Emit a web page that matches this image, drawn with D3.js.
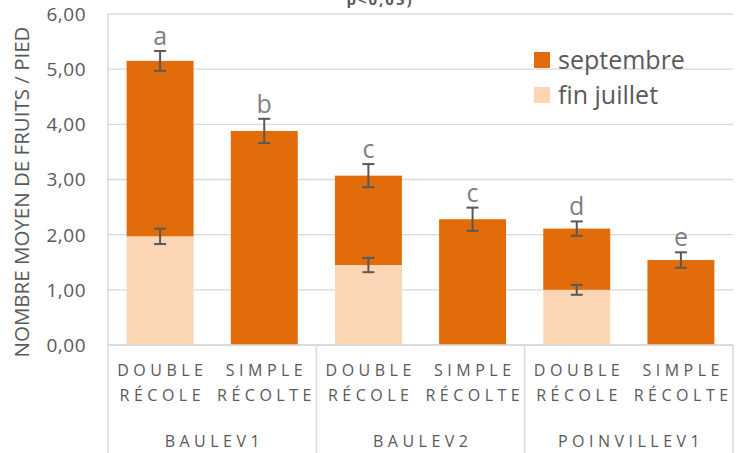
<!DOCTYPE html>
<html lang="fr">
<head>
<meta charset="UTF-8">
<title>Nombre moyen de fruits par pied</title>
<script src="https://cdn.jsdelivr.net/npm/d3@7"></script>
<style>
  body { margin: 0; background: #fff; }
  text { font-family: "Open Sans", Lato, sans-serif; }
</style>
</head>
<body>
<div id="chart"></div>
<script>
// data
var groups = ["BAULEV1", "BAULEV2", "POINVILLEV1"]
var treatments = [["DOUBLE", "RÉCOLE"], ["SIMPLE", "RÉCOLTE"]]
var juillet = [1.97, 0, 1.45, 0, 1.00, 0]
var septembre = [3.18, 3.88, 1.62, 2.28, 1.11, 1.54]
var errJuillet = [0.14, null, 0.13, null, 0.09, null]
var errTotal = [0.18, 0.22, 0.21, 0.21, 0.13, 0.14]
var letters = ["a", "b", "c", "c", "d", "e"]
var yTicks = [0, 1, 2, 3, 4, 5, 6]
var series = ["septembre", "fin juillet"]
var colors = { "septembre": "#E36C0A", "fin juillet": "#FCD5B5" }

var width = 737, height = 453
var margin = { top: 14, right: 4, bottom: 108, left: 108 }

var svg = d3.select("#chart").append("svg")
    .attr("width", width)
    .attr("height", height)

var bars = []
groups.forEach(function (g, gi) {
    treatments.forEach(function (t, ti) {
        var i = gi * 2 + ti
        bars.push({ i: i, group: g, lines: t, juillet: juillet[i], sept: septembre[i],
            total: juillet[i] + septembre[i], errJ: errJuillet[i], errT: errTotal[i], letter: letters[i] })
    })
})

var x = d3.scaleBand()
    .domain(bars.map(function (d) { return d.i }))
    .range([margin.left, width - margin.right])
    .paddingInner(0.357)
    .paddingOuter(0.1785)

var y = d3.scaleLinear()
    .domain([0, 6])
    .range([height - margin.bottom, margin.top])

var fmt = function (v) { return d3.format(".2f")(v).replace(".", ",") }

// gridlines
svg.append("g")
    .selectAll("line")
    .data(yTicks)
    .enter().append("line")
    .attr("x1", margin.left).attr("x2", width - margin.right)
    .attr("y1", function (d) { return y(d) }).attr("y2", function (d) { return y(d) })
    .attr("stroke", "#D9D9D9").attr("stroke-width", 1.3)

// y tick labels
svg.append("g")
    .selectAll("text")
    .data(yTicks)
    .enter().append("text")
    .attr("x", 86)
    .attr("y", function (d) { return y(d) })
    .attr("dy", "0.36em")
    .attr("text-anchor", "end")
    .attr("fill", "#595959")
    .style("font-size", "19px")
    .style("letter-spacing", "0.5px")
    .text(fmt)

// y axis title
svg.append("text")
    .attr("transform", "translate(29,192) rotate(-90)")
    .attr("text-anchor", "middle")
    .attr("fill", "#595959")
    .style("font-size", "20.5px")
    .text("NOMBRE MOYEN DE FRUITS / PIED")

// stacked bars
var bar = svg.append("g").selectAll("g")
    .data(bars)
    .enter().append("g")

bar.append("rect")
    .attr("x", function (d) { return x(d.i) })
    .attr("width", x.bandwidth())
    .attr("y", function (d) { return y(d.juillet) })
    .attr("height", function (d) { return y(0) - y(d.juillet) })
    .attr("fill", colors["fin juillet"])

bar.append("rect")
    .attr("x", function (d) { return x(d.i) })
    .attr("width", x.bandwidth())
    .attr("y", function (d) { return y(d.total) })
    .attr("height", function (d) { return y(d.juillet) - y(d.total) })
    .attr("fill", colors["septembre"])

// error bars
function errorBar(sel, val, err) {
    var cx = function (d) { return x(d.i) + x.bandwidth() / 2 }
    var s = sel.filter(function (d) { return err(d) != null })
    s.append("line")
        .attr("x1", cx).attr("x2", cx)
        .attr("y1", function (d) { return y(val(d) + err(d)) })
        .attr("y2", function (d) { return y(val(d) - err(d)) })
    ;[1, -1].forEach(function (sgn) {
        s.append("line")
            .attr("x1", function (d) { return cx(d) - 6 }).attr("x2", function (d) { return cx(d) + 6 })
            .attr("y1", function (d) { return y(val(d) + sgn * err(d)) })
            .attr("y2", function (d) { return y(val(d) + sgn * err(d)) })
    })
    s.selectAll("line").attr("stroke", "#595959").attr("stroke-width", 2)
}
errorBar(bar.append("g"), function (d) { return d.juillet }, function (d) { return d.errJ })
errorBar(bar.append("g"), function (d) { return d.total }, function (d) { return d.errT })

// significance letters
bar.append("text")
    .attr("x", function (d) { return x(d.i) + x.bandwidth() / 2 })
    .attr("y", function (d) { return y(d.total + d.errT) - 6 })
    .attr("text-anchor", "middle")
    .attr("fill", "#7F7F7F")
    .style("font-size", "25px")
    .text(function (d) { return d.letter })

// x axis frame
var base = y(0)
svg.append("line")
    .attr("x1", margin.left).attr("x2", width - margin.right)
    .attr("y1", base).attr("y2", base)
    .attr("stroke", "#D9D9D9").attr("stroke-width", 1.5)
var seps = [0, 2, 4, 6].map(function (k) { return margin.left + k * x.step() })
svg.append("g").selectAll("line")
    .data(seps)
    .enter().append("line")
    .attr("x1", function (d) { return d }).attr("x2", function (d) { return d })
    .attr("y1", function (d, i) { return i == 0 ? margin.top : base })
    .attr("y2", height)
    .attr("stroke", "#D9D9D9").attr("stroke-width", 1.5)

// category labels
var ls = 4.5
bar.each(function (d) {
    var g = d3.select(this)
    d.lines.forEach(function (l, li) {
        g.append("text")
            .attr("x", x(d.i) + x.bandwidth() / 2 + ls / 2)
            .attr("y", 376 + li * 25)
            .attr("text-anchor", "middle")
            .attr("fill", "#595959")
            .style("font-size", "16px")
            .style("letter-spacing", ls + "px")
            .text(l)
    })
})

svg.append("g").selectAll("text")
    .data(groups)
    .enter().append("text")
    .attr("x", function (d, i) { return margin.left + (i * 2 + 1) * x.step() + ls / 2 })
    .attr("y", 447)
    .attr("text-anchor", "middle")
    .attr("fill", "#595959")
    .style("font-size", "16px")
    .style("letter-spacing", ls + "px")
    .text(function (d) { return d })

// legend
var legend = svg.append("g").selectAll("g")
    .data(series)
    .enter().append("g")
    .attr("transform", function (d, i) { return "translate(534," + (52 + i * 35) + ")" })
legend.append("rect")
    .attr("width", 16).attr("height", 16)
    .attr("fill", function (d) { return colors[d] })
legend.append("text")
    .attr("x", 24).attr("y", 8)
    .attr("dy", "0.36em")
    .attr("fill", "#595959")
    .style("font-size", "25px")
    .text(function (d) { return d })

// title at the top, cut off by the frame
svg.append("text")
    .attr("x", 380).attr("y", 5)
    .attr("text-anchor", "middle")
    .attr("fill", "#595959")
    .style("font-size", "15px")
    .style("font-weight", "bold")
    .style("letter-spacing", "2px")
    .text("p<0,05)")
</script>
</body>
</html>
